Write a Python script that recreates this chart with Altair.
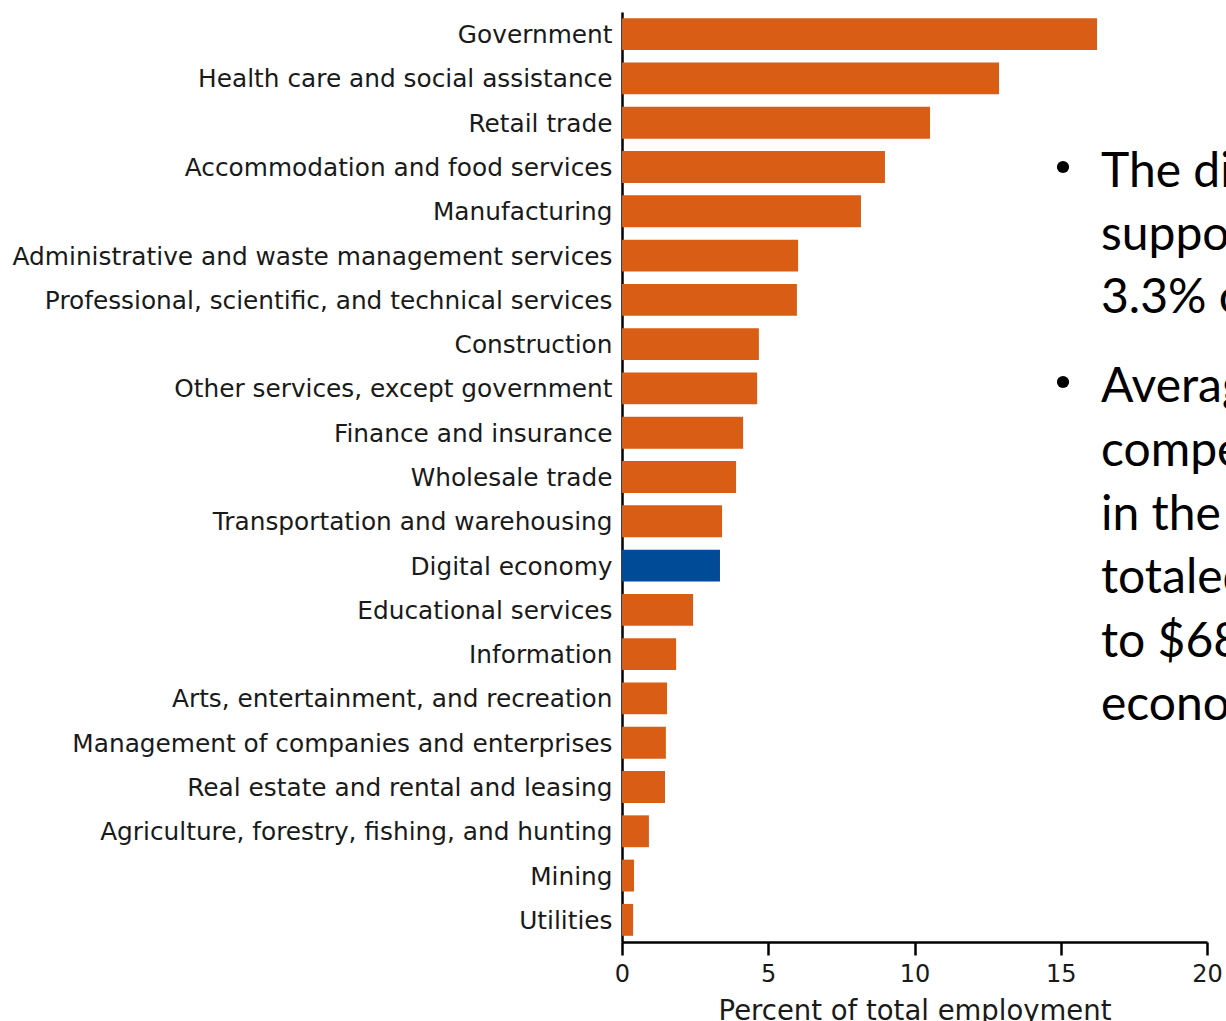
import altair as alt
import pandas as pd

# ---- data ----
industries = [
    "Government",
    "Health care and social assistance",
    "Retail trade",
    "Accommodation and food services",
    "Manufacturing",
    "Administrative and waste management services",
    "Professional, scientific, and technical services",
    "Construction",
    "Other services, except government",
    "Finance and insurance",
    "Wholesale trade",
    "Transportation and warehousing",
    "Digital economy",
    "Educational services",
    "Information",
    "Arts, entertainment, and recreation",
    "Management of companies and enterprises",
    "Real estate and rental and leasing",
    "Agriculture, forestry, fishing, and hunting",
    "Mining",
    "Utilities",
]
percent = [16.24, 12.89, 10.53, 8.99, 8.17, 6.02, 5.98, 4.68, 4.62, 4.14,
           3.90, 3.42, 3.35, 2.43, 1.85, 1.54, 1.50, 1.47, 0.92, 0.41, 0.38]
group = ["Industry"] * 12 + ["Digital"] + ["Industry"] * 8

x_ticks = [0, 5, 10, 15, 20]

bullet1 = ["The dig", "suppor", "3.3% of"]
bullet2 = ["Averag", "compen", "in the ", "totaled", "to $68,", "econom"]

df = pd.DataFrame({"industry": industries, "percent": percent, "group": group})

ORANGE = "#D95D15"
BLUE = "#004B98"
LABEL_FONT = "DejaVu Sans"
NOTE_FONT = "Lato"

PLOT_W = 585
PLOT_H = 930

bars = alt.Chart(df).mark_bar(cornerRadius=0).encode(
    x=alt.X(
        "percent:Q",
        scale=alt.Scale(domain=[0, 20], nice=False, zero=True),
        axis=alt.Axis(
            values=x_ticks,
            title="Percent of total employment",
            grid=False,
            domainColor="#000000",
            domainWidth=2.5,
            tickColor="#000000",
            tickWidth=2.5,
            tickSize=13,
            labelFont=LABEL_FONT,
            labelFontSize=24,
            labelFontWeight="normal",
            labelColor="#1a1a1a",
            labelPadding=7,
            labelFlush=False,
            titleFont=LABEL_FONT,
            titleFontSize=27.5,
            titleFontWeight="normal",
            titleColor="#1a1a1a",
            titleBaseline="alphabetic",
            titleY=77,
        ),
    ),
    y=alt.Y(
        "industry:N",
        sort=industries,
        scale=alt.Scale(paddingInner=0.28, paddingOuter=0.14),
        axis=alt.Axis(
            title=None,
            ticks=False,
            domainColor="#000000",
            domainWidth=2.5,
            labelFont=LABEL_FONT,
            labelFontSize=24.8,
            labelFontWeight="normal",
            labelColor="#1a1a1a",
            labelPadding=10,
            labelOffset=2,
            labelLimit=700,
        ),
    ),
    color=alt.Color(
        "group:N",
        scale=alt.Scale(domain=["Industry", "Digital"], range=[ORANGE, BLUE]),
        legend=None,
    ),
)

layers = [bars]

# Annotation text on the right (clipped by the page edge like the reference)
note_x = 1101 - 622
dot_x = 1063 - 622
b1_base = [187, 250, 313]
b2_base = [402, 466, 530, 593, 657, 720]
for lines, bases in ((bullet1, b1_base), (bullet2, b2_base)):
    for txt, yb in zip(lines, bases):
        layers.append(
            alt.Chart(df.head(1)).mark_text(
                text=txt, align="left", baseline="alphabetic",
                font=NOTE_FONT, fontSize=48, color="#000000",
            ).encode(x=alt.value(note_x), y=alt.value(yb - 12))
        )
    layers.append(
        alt.Chart(df.head(1)).mark_circle(
            size=150, color="#000000", opacity=1
        ).encode(x=alt.value(dot_x), y=alt.value(bases[0] - 20 - 12))
    )

chart = alt.layer(*layers).properties(
    width=PLOT_W,
    height=PLOT_H,
    background="#ffffff",
    autosize=alt.AutoSizeParams(type="none"),
    padding={"left": 622, "top": 12, "right": 19, "bottom": 79},
).configure_view(stroke=None)

chart.save("out.html", embed_options={"renderer": "svg", "actions": False})
